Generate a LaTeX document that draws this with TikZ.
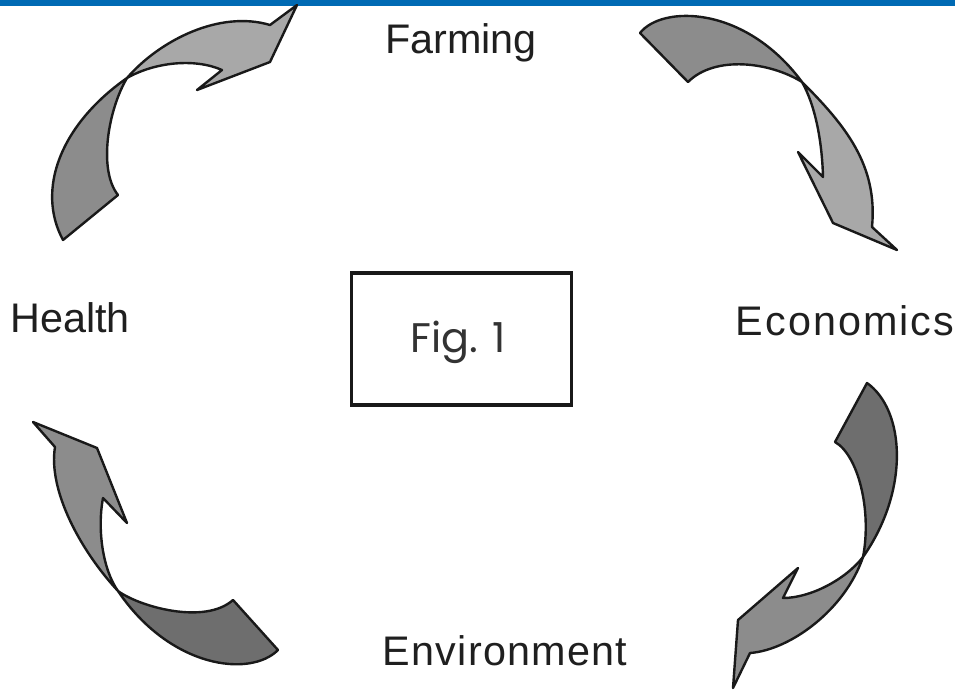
\documentclass[tikz,border=0pt]{standalone}
\usepackage{fontspec}
\setmainfont{Liberation Sans}
\newfontfamily\figfont{Poppins}
\begin{document}
\begin{tikzpicture}[x=0.75pt,y=-0.75pt,
  ribbon/.style={draw=black!90,line width=1.8pt,line join=round},
  lightside/.style={ribbon,fill=black!34},
  midside/.style={ribbon,fill=black!45},
  darkside/.style={ribbon,fill=black!57},
  label/.style={font=\fontsize{31}{36}\selectfont,text=black!88,anchor=base,inner sep=0pt},
  figbox/.style={draw=black!90,line width=2.4pt,minimum width=165pt,minimum height=99pt,inner sep=0pt}]
\definecolor{barblue}{RGB}{0,106,180}
\useasboundingbox (0,0) rectangle (955,689);
\fill[white] (0,0) rectangle (955,689);
\fill[barblue] (0,0) rectangle (955,6);

% labels
\node[label] (farming) at (461,53) {Farming};
\node[label] (health) at (70,332) {Health};
\node[label] (economics) at (845,335) {\addfontfeatures{LetterSpace=5}Economics};
\node[label] (environment) at (505,665) {\addfontfeatures{LetterSpace=3}Environment};

% centre box
\node[figbox] (fig) at (461.5,339) {};
\node[anchor=base,inner sep=0pt,font=\figfont\fontsize{31}{36}\selectfont,text=black!80] (figtext) at (458,352) {Fig. 1};

% twist points of the four ribbons
\coordinate (tw1) at (127,78);
\coordinate (tw2) at (802,82);
\coordinate (tw3) at (863,557);
\coordinate (tw4) at (118,591);

% Health -> Farming
\path[midside] (63,240) .. controls (36,190) and (60,125) .. (tw1)
  .. controls (108,110) and (98,170) .. (118,195) -- cycle;
\path[lightside] (tw1) .. controls (160,40) and (220,10) .. (270,25)
  -- (297,5) -- (270,62) -- (197,90) -- (222,70)
  .. controls (195,58) and (155,62) .. (tw1) -- cycle;

% Farming -> Economics
\path[midside] (640,33) .. controls (662,5) and (745,5) .. (tw2)
  .. controls (770,62) and (715,55) .. (688,82) -- cycle;
\path[lightside] (tw2) .. controls (845,125) and (878,165) .. (872,227)
  -- (897,250) -- (833,223) -- (798,152) -- (823,177)
  .. controls (822,140) and (815,105) .. (tw2) -- cycle;

% Economics -> Environment
\path[darkside] (867,383) .. controls (905,410) and (910,490) .. (tw3)
  .. controls (872,510) and (858,455) .. (835,442) -- cycle;
\path[midside] (tw3) .. controls (845,580) and (810,598) .. (783,598)
  -- (798,568) -- (738,620) -- (733,688) -- (750,653)
  .. controls (790,650) and (845,610) .. (tw3) -- cycle;

% Environment -> Health
\path[darkside] (tw4) .. controls (140,607) and (205,625) .. (233,600)
  -- (278,650) .. controls (250,678) and (170,668) .. (tw4) -- cycle;
\path[midside] (tw4) .. controls (80,550) and (48,490) .. (55,447)
  -- (33,422) -- (97,448) -- (127,523) -- (103,498)
  .. controls (97,530) and (103,570) .. (tw4) -- cycle;
\end{tikzpicture}
\end{document}
